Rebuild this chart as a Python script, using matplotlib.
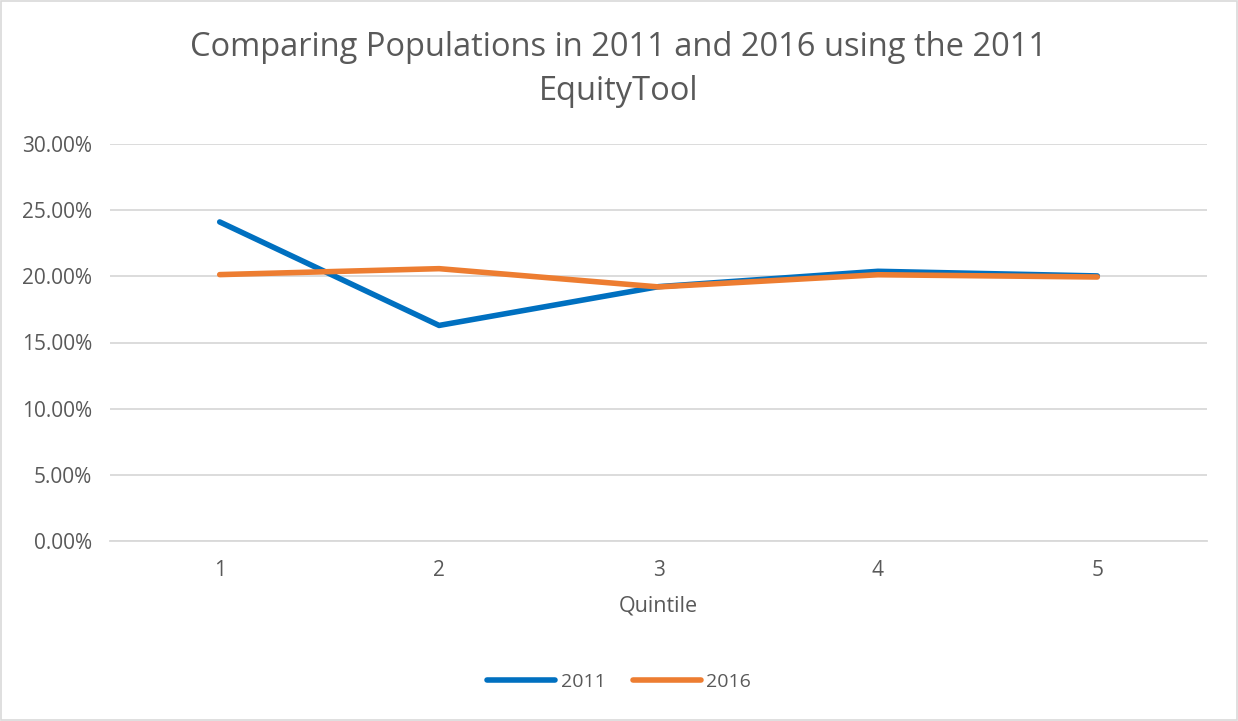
import matplotlib.pyplot as plt
from matplotlib.ticker import PercentFormatter
from matplotlib.patches import Rectangle

quintiles = [1, 2, 3, 4, 5]
pop_2011 = [24.11, 16.29, 19.22, 20.38, 20.03]
pop_2016 = [20.13, 20.58, 19.2, 20.12, 19.95]

plt.rcParams['font.family'] = ['Open Sans', 'DejaVu Sans']
txt = '#595959'

fig = plt.figure(figsize=(12.38, 7.21), dpi=100)
ax = fig.add_axes([110/1238, 1-541/721, 1097/1238, 397/721])

ax.plot(quintiles, pop_2011, color='#0070C0', lw=4, solid_capstyle='round', solid_joinstyle='round', label='2011')
ax.plot(quintiles, pop_2016, color='#ED7D31', lw=4, solid_capstyle='round', solid_joinstyle='round', label='2016')

ax.set_xlim(0.5, 5.5)
ax.set_ylim(0, 30)
ax.set_yticks([0, 5, 10, 15, 20, 25, 30])
ax.yaxis.set_major_formatter(PercentFormatter(decimals=2))
ax.set_xticks(quintiles)
ax.grid(axis='y', color='#D9D9D9', lw=1.3)
ax.set_axisbelow(True)
for s in ['top', 'right', 'left']:
    ax.spines[s].set_visible(False)
ax.spines['bottom'].set_color('#D9D9D9')
ax.spines['bottom'].set_linewidth(1.3)
ax.tick_params(axis='both', length=0, labelsize=15, labelcolor=txt)
ax.tick_params(axis='y', pad=13)
ax.tick_params(axis='x', pad=14)
ax.set_xlabel('Quintile', fontsize=15.5, color=txt, labelpad=10)

fig.text(0.5, 1-47/721, 'Comparing Populations in 2011 and 2016 using the 2011', ha='center', va='center', fontsize=23.5, color=txt)
fig.text(0.5, 1-92/721, 'EquityTool', ha='center', va='center', fontsize=23.5, color=txt)

fig.legend(loc='center', bbox_to_anchor=(0.5, 1-682/721), ncol=2, frameon=False,
           fontsize=14, labelcolor=txt, handlelength=3.5, columnspacing=1.4, handletextpad=0.3)

fig.patches.append(Rectangle((1/1238, 1/721), 1-2/1238, 1-2/721, transform=fig.transFigure,
                             fill=False, edgecolor='#D9D9D9', lw=1.2))

fig.savefig('out.png', dpi=100)
